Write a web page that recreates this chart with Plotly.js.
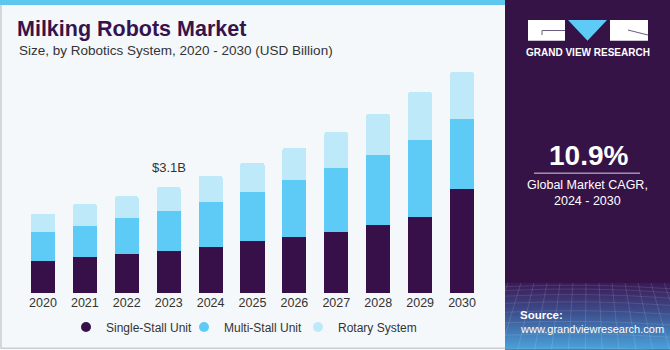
<!DOCTYPE html>
<html>
<head>
<meta charset="utf-8">
<script src="https://cdn.plot.ly/plotly-3.0.1.min.js"></script>
<style>
html,body{margin:0;padding:0;background:#ffffff;}
#chart{width:670px;height:350px;}
</style>
</head>
<body>
<div id="chart"></div>
<script>
// ---- data ----
const years = ['2020','2021','2022','2023','2024','2025','2026','2027','2028','2029','2030'];
const singleStall = [0.95,1.04,1.13,1.23,1.36,1.51,1.65,1.79,1.99,2.22,3.06];
const multiStall  = [0.85,0.93,1.07,1.16,1.32,1.45,1.66,1.87,2.06,2.26,2.04];
const rotary      = [0.52,0.63,0.63,0.71,0.75,0.86,0.94,1.05,1.19,1.40,1.37];
const seriesNames = ['Single-Stall Unit','Multi-Stall Unit','Rotary System'];
const seriesColors = ['#37104A','#5DCBF5','#BEE9F9'];
const calloutYear = '2023';
const calloutText = '&#36;3.1B';
const cagrText = '10.9%';
const cagrLabel = ['Global Market CAGR,','2024 - 2030'];

// ---- geometry helpers (pixel -> paper) ----
const W=670,H=350,L=22,R=187,T=54,B=56.7;
const pw=W-L-R, ph=H-T-B;
const X=px=>(px-L)/pw, Y=py=>(H-B-py)/ph;

const font='"Liberation Sans", Arial, sans-serif';
const seriesVals=[singleStall,multiStall,rotary];
const legendIds=['legend','legend2','legend3'];
const legendTextX=[106,224,338];

const traces=[];
seriesVals.forEach((vals,i)=>{
  traces.push({type:'bar',x:years,y:vals,name:seriesNames[i],
    marker:{color:seriesColors[i],line:{width:0}},showlegend:false,hoverinfo:'skip'});
});
seriesVals.forEach((vals,i)=>{
  traces.push({type:'scatter',mode:'markers',x:[null],y:[null],name:seriesNames[i],legend:legendIds[i],
    marker:{color:seriesColors[i],size:10,symbol:'circle'},showlegend:true,hoverinfo:'skip'});
});

const idx=years.indexOf(calloutYear);
const total=singleStall[idx]+multiStall[idx]+rotary[idx];

// gradient + grid image for bottom of right panel
let grid='';
for(let i=0;i<14;i++){const x=i*13-10; grid+=`<line x1='${x}' y1='0' x2='${x*1.3-25}' y2='67' stroke='white' stroke-opacity='0.18' stroke-width='0.7'/>`;}
for(let j=0;j<9;j++){const y=4+j*j*0.85+j*3; grid+=`<path d='M0 ${y} Q82 ${y-4} 165 ${y+2}' fill='none' stroke='white' stroke-opacity='0.16' stroke-width='0.7'/>`;}
const svg=`<svg xmlns='http://www.w3.org/2000/svg' width='165' height='67' viewBox='0 0 165 67'><defs><linearGradient id='g' x1='0' y1='0' x2='0' y2='1'><stop offset='0' stop-color='#3a1a55'/><stop offset='0.45' stop-color='#3d4f8e'/><stop offset='1' stop-color='#4aa3dc'/></linearGradient></defs><rect width='165' height='67' fill='url(#g)'/>${grid}</svg>`;
const imgSrc='data:image/svg+xml;charset=utf-8,'+encodeURIComponent(svg);

const shapes=[
  {type:'rect',xref:'paper',yref:'paper',x0:X(0),x1:X(505),y0:Y(350),y1:Y(0),fillcolor:'#F4F8FB',line:{width:0},layer:'below'},
  {type:'line',xref:'paper',yref:'paper',x0:X(1),x1:X(1),y0:Y(349),y1:Y(4),line:{color:'#C9CDD2',width:1.5},layer:'above'},
  {type:'line',xref:'paper',yref:'paper',x0:X(1),x1:X(505),y0:Y(348.5),y1:Y(348.5),line:{color:'#C9CDD2',width:1.5},layer:'above'},
  {type:'rect',xref:'paper',yref:'paper',x0:X(0),x1:X(505),y0:Y(5),y1:Y(0),fillcolor:'#5CC8F0',line:{width:0},layer:'above'},
  {type:'rect',xref:'paper',yref:'paper',x0:X(505),x1:X(670),y0:Y(350),y1:Y(0),fillcolor:'#361347',line:{width:0},layer:'below'},
  {type:'rect',xref:'paper',yref:'paper',x0:X(528),x1:X(565),y0:Y(40.7),y1:Y(20),fillcolor:'#FFFFFF',line:{width:0},layer:'above'},
  {type:'line',xref:'paper',yref:'paper',x0:X(542),x1:X(565),y0:Y(30.5),y1:Y(30.5),line:{color:'#6a5a80',width:1},layer:'above'},
  {type:'line',xref:'paper',yref:'paper',x0:X(542),x1:X(542),y0:Y(30.5),y1:Y(35),line:{color:'#6a5a80',width:1},layer:'above'},
  {type:'path',xref:'paper',yref:'paper',path:`M ${X(568)} ${Y(20)} L ${X(607)} ${Y(20)} L ${X(587.5)} ${Y(40.7)} Z`,fillcolor:'#5DCBF5',line:{width:0},layer:'above'},
  {type:'rect',xref:'paper',yref:'paper',x0:X(610),x1:X(648),y0:Y(40.7),y1:Y(20),fillcolor:'#FFFFFF',line:{width:0},layer:'above'},
  {type:'line',xref:'paper',yref:'paper',x0:X(628),x1:X(648),y0:Y(30),y1:Y(35),line:{color:'#6a5a80',width:1},layer:'above'},
  {type:'line',xref:'paper',yref:'paper',x0:X(534),x1:X(640),y0:Y(173.3),y1:Y(173.3),line:{color:'#D8D0E0',width:1},layer:'above'}
];

const annotations=[
  {xref:'paper',yref:'paper',x:X(17),y:Y(50),xanchor:'left',yanchor:'middle',showarrow:false,
   text:'Size, by Robotics System, 2020 - 2030 (USD Billion)',font:{family:font,size:13.5,color:'#333333'}},
  {x:idx,y:total,xref:'x',yref:'y',xanchor:'center',yanchor:'bottom',yshift:10,showarrow:false,
   text:calloutText,font:{family:font,size:13,color:'#333333'}},
  {xref:'paper',yref:'paper',x:X(587.5),y:Y(52),xanchor:'center',yanchor:'middle',showarrow:false,
   text:'<b>GRAND VIEW RESEARCH</b>',font:{family:font,size:10,color:'#FFFFFF'}},
  {xref:'paper',yref:'paper',x:X(588),y:Y(156),xanchor:'center',yanchor:'middle',showarrow:false,
   text:'<b>'+cagrText+'</b>',font:{family:font,size:28,color:'#FFFFFF'}},
  {xref:'paper',yref:'paper',x:X(587.5),y:Y(185),xanchor:'center',yanchor:'middle',showarrow:false,
   text:cagrLabel[0],font:{family:font,size:12.5,color:'#FFFFFF'}},
  {xref:'paper',yref:'paper',x:X(587.5),y:Y(201),xanchor:'center',yanchor:'middle',showarrow:false,
   text:cagrLabel[1],font:{family:font,size:12.5,color:'#FFFFFF'}},
  {xref:'paper',yref:'paper',x:X(518),y:Y(315),xanchor:'left',yanchor:'middle',showarrow:false,
   text:'<b>Source:</b>',font:{family:font,size:11.5,color:'#FFFFFF'}},
  {xref:'paper',yref:'paper',x:X(518),y:Y(329),xanchor:'left',yanchor:'middle',showarrow:false,
   text:'www.grandviewresearch.com',font:{family:font,size:11,color:'#FFFFFF'}}
];

const layout={
  width:W,height:H,
  margin:{l:L,r:R,t:T,b:B,pad:0},
  paper_bgcolor:'#FFFFFF',plot_bgcolor:'rgba(0,0,0,0)',
  barmode:'stack',bargap:0.427,barcornerradius:2,
  font:{family:font,color:'#333333'},
  title:{text:'<b>Milking Robots Market</b>',x:17/W,xanchor:'left',xref:'container',
    y:1-28/H,yanchor:'middle',yref:'container',font:{family:font,size:21.5,color:'#37134D'}},
  xaxis:{type:'category',range:[-0.5,10.5],showgrid:false,zeroline:false,showline:false,ticks:'',
    tickfont:{family:font,size:12.5,color:'#333333'},fixedrange:true},
  yaxis:{range:[0,7],visible:false,showgrid:false,zeroline:false,fixedrange:true},
  shapes:shapes,annotations:annotations,
  images:[{source:imgSrc,xref:'paper',yref:'paper',x:X(505),y:Y(283),sizex:X(670)-X(505),sizey:Y(283)-Y(350),
    xanchor:'left',yanchor:'top',sizing:'stretch',layer:'above'}],
  showlegend:true
};
legendIds.forEach((id,i)=>{
  layout[id]={orientation:'h',xref:'container',yref:'container',x:(legendTextX[i]-40)/W,xanchor:'left',
    y:1-327/H,yanchor:'middle',font:{family:font,size:12,color:'#333333'},bgcolor:'rgba(0,0,0,0)',
    itemclick:false,itemdoubleclick:false};
});

Plotly.newPlot('chart',traces,layout,{displayModeBar:false,staticPlot:true});
</script>
</body>
</html>
